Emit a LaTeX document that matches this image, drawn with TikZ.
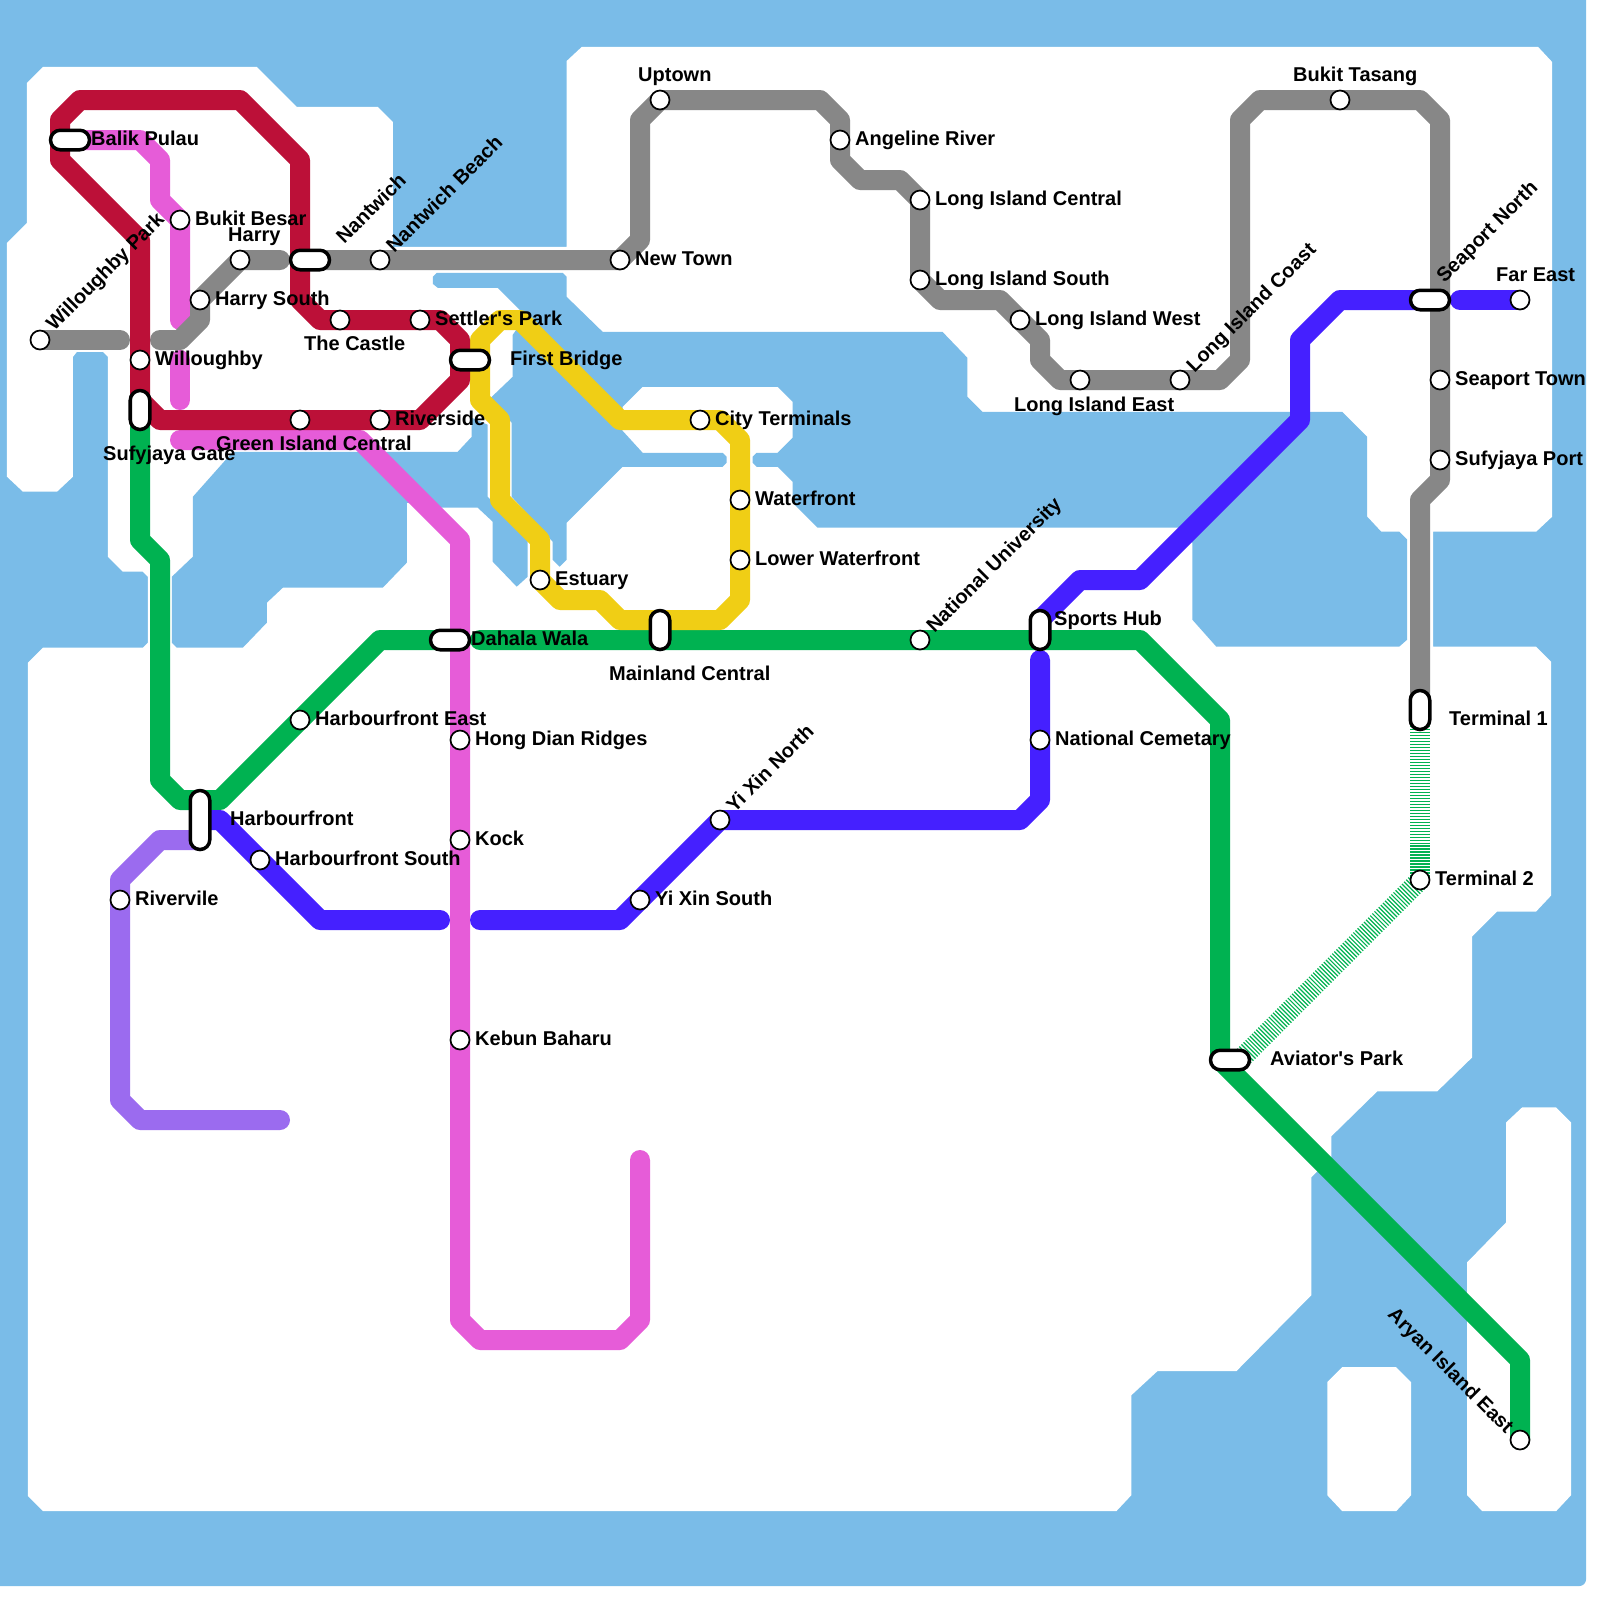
\documentclass[tikz,border=0pt]{standalone}
\usepackage{fontspec}
\newfontfamily\lblfont{Liberation Sans}
\usetikzlibrary{backgrounds}
\definecolor{water}{HTML}{7ABCE8}
\definecolor{redline}{HTML}{BC1038}
\definecolor{pinkline}{HTML}{E65CD8}
\definecolor{greyline}{HTML}{878787}
\definecolor{greenline}{HTML}{00B251}
\definecolor{blueline}{HTML}{4520FF}
\definecolor{violetline}{HTML}{9B6BEF}
\definecolor{yellowline}{HTML}{F0CE15}
\begin{document}
\begin{tikzpicture}[
        x=0.2cm, y=-0.2cm,
        track/.style={line width=0.2cm, line cap=round, line join=round},
        hatched/.style={line width=0.2cm, color=greenline, dash pattern=on 0.34pt off 0.51pt},
        stn/.style={draw, circle, fill=white, line width=0.017cm, minimum size=0.19cm, inner sep=0pt},
        pillh/.style={draw, fill=white, line width=0.035cm, minimum width=0.39cm, minimum height=0.195cm, inner sep=0pt, rounded corners=0.097cm},
        pillv/.style={draw, fill=white, line width=0.035cm, minimum width=0.195cm, minimum height=0.39cm, inner sep=0pt, rounded corners=0.097cm},
        pilllong/.style={pillv, minimum height=0.59cm},
        lbl/.style={anchor=base west, inner sep=0pt, xshift=-0.015cm, yshift=-0.01cm, font=\lblfont\bfseries\fontsize{5.69}{6}\selectfont},
        lblup/.style={lbl, xshift=0.035cm, yshift=-0.03cm, rotate=45},
        lbldown/.style={lbl, anchor=base east, xshift=-0.005cm, yshift=-0.03cm, rotate=-45}
    ]
        \useasboundingbox (0,0) rectangle (80,80);

        % Stations, west
        \node[pillh] (balik) at (3.5,7) {};
        \node[stn] (besar) at (9,11) {};
        \node[stn] (harry) at (12,13) {};
        \node[stn] (harrys) at (10,15) {};
        \node[pillh] (nantwich) at (15.5,13) {};
        \node[stn] (nbeach) at (19,13) {};
        \node[stn] (wpark) at (2,17) {};
        \node[stn] (willoughby) at (7,18) {};
        \node[stn] (castle) at (17,16) {};
        \node[stn] (settler) at (21,16) {};
        \node[pillh] (bridge) at (23.5,18) {};
        \node[pillv] (gate) at (7,20.5) {};
        \node[stn] (gisland) at (15,21) {};
        \node[stn] (riverside) at (19,21) {};

        % Stations, centre
        \node[stn] (newtown) at (31,13) {};
        \node[stn] (uptown) at (33,5) {};
        \node[stn] (cityterm) at (35,21) {};
        \node[stn] (waterfront) at (37,25) {};
        \node[stn] (lowerwf) at (37,28) {};
        \node[stn] (estuary) at (27,29) {};
        \node[pillv] (mainland) at (33,31.5) {};
        \node[pillh] (dahala) at (22.5,32) {};
        \node[stn] (natuni) at (46,32) {};
        \node[pillv] (sports) at (52,31.5) {};
        \node[stn] (cemetary) at (52,37) {};
        \node[stn] (yinorth) at (36,41) {};
        \node[stn] (yisouth) at (32,45) {};

        % Stations, south west
        \node[stn] (hbeast) at (15,36) {};
        \node[pilllong] (harbour) at (10,41) {};
        \node[stn] (hbsouth) at (13,43) {};
        \node[stn] (rivervile) at (6,45) {};
        \node[stn] (hongdian) at (23,37) {};
        \node[stn] (kock) at (23,42) {};
        \node[stn] (kebun) at (23,52) {};

        % Stations, east
        \node[stn] (angeline) at (42,7) {};
        \node[stn] (licentral) at (46,10) {};
        \node[stn] (lisouth) at (46,14) {};
        \node[stn] (liwest) at (51,16) {};
        \node[stn] (lieast) at (54,19) {};
        \node[stn] (licoast) at (59,19) {};
        \node[stn] (tasang) at (67,5) {};
        \node[pillh] (seaportn) at (71.5,15) {};
        \node[stn] (fareast) at (76,15) {};
        \node[stn] (seaportt) at (72,19) {};
        \node[stn] (sufport) at (72,23) {};
        \node[pillv] (term1) at (71,35.5) {};
        \node[stn] (term2) at (71,44) {};
        \node[pillh] (aviator) at (61.5,53) {};
        \node[stn] (aryan) at (76,72) {};

        % Labels
        \node[lbl] (tbalik) at (4.6,7.2) {Balik Pulau};
        \node[lbl] (tbesar) at (9.8,11.2) {Bukit Besar};
        \node[lbl] (tharry) at (11.45,12) {Harry};
        \node[lbl] (tharrys) at (10.8,15.2) {Harry South};
        \node[lblup] (tnantwich) at (17.1,12.05) {Nantwich};
        \node[lblup] (tnbeach) at (19.6,12.5) {Nantwich Beach};
        \node[lblup] (twpark) at (2.6,16.4) {Willoughby Park};
        \node[lbl] (twilloughby) at (7.8,18.2) {Willoughby};
        \node[lbl] (tcastle) at (15.25,17.45) {The Castle};
        \node[lbl] (tsettler) at (21.8,16.2) {Settler's Park};
        \node[lbl] (tbridge) at (25.55,18.2) {First Bridge};
        \node[lbl] (tgate) at (5.2,22.95) {Sufyjaya Gate};
        \node[lbl] (tgisland) at (10.85,22.45) {Green Island Central};
        \node[lbl] (triverside) at (19.8,21.2) {Riverside};
        \node[lbl] (tnewtown) at (31.8,13.2) {New Town};
        \node[lbl] (tuptown) at (31.95,4) {Uptown};
        \node[lbl] (tcityterm) at (35.8,21.2) {City Terminals};
        \node[lbl] (twaterfront) at (37.8,25.2) {Waterfront};
        \node[lbl] (tlowerwf) at (37.8,28.2) {Lower Waterfront};
        \node[lbl] (testuary) at (27.8,29.2) {Estuary};
        \node[lbl] (tmainland) at (30.5,33.95) {Mainland Central};
        \node[lbl] (tdahala) at (23.6,32.2) {Dahala Wala};
        \node[lblup] (tnatuni) at (46.6,31.5) {National University};
        \node[lbl] (tsports) at (52.75,31.2) {Sports Hub};
        \node[lbl] (tcemetary) at (52.8,37.2) {National Cemetary};
        \node[lblup] (tyinorth) at (36.6,40.5) {Yi Xin North};
        \node[lbl] (tyisouth) at (32.8,45.2) {Yi Xin South};
        \node[lbl] (thbeast) at (15.8,36.2) {Harbourfront East};
        \node[lbl] (tharbour) at (11.55,41.2) {Harbourfront};
        \node[lbl] (thbsouth) at (13.8,43.2) {Harbourfront South};
        \node[lbl] (trivervile) at (6.8,45.2) {Rivervile};
        \node[lbl] (thongdian) at (23.8,37.2) {Hong Dian Ridges};
        \node[lbl] (tkock) at (23.8,42.2) {Kock};
        \node[lbl] (tkebun) at (23.8,52.2) {Kebun Baharu};
        \node[lbl] (tangeline) at (42.8,7.2) {Angeline River};
        \node[lbl] (tlicentral) at (46.8,10.2) {Long Island Central};
        \node[lbl] (tlisouth) at (46.8,14.2) {Long Island South};
        \node[lbl] (tliwest) at (51.8,16.2) {Long Island West};
        \node[lbl] (tlieast) at (50.75,20.5) {Long Island East};
        \node[lblup] (tlicoast) at (59.6,18.5) {Long Island Coast};
        \node[lbl] (ttasang) at (64.7,4) {Bukit Tasang};
        \node[lblup] (tseaportn) at (72.1,14) {Seaport North};
        \node[lbl] (tfareast) at (74.85,14) {Far East};
        \node[lbl] (tseaportt) at (72.8,19.2) {Seaport Town};
        \node[lbl] (tsufport) at (72.8,23.2) {Sufyjaya Port};
        \node[lbl] (tterm1) at (72.5,36.2) {Terminal 1};
        \node[lbl] (tterm2) at (71.8,44.2) {Terminal 2};
        \node[lbl] (taviator) at (63.55,53.2) {Aviator's Park};
        \node[lbldown] (taryan) at (75.4,71.55) {Aryan Island East};

        % Free ends of the lines
        \coordinate (pinkend) at (32,58);
        \coordinate (violetend) at (14,56);

        \begin{pgfonlayer}{background}
        % Sea and land, in reference pixels
        \begin{scope}[x=0.01cm, y=-0.01cm]
            \fill[water, rounded corners=0.07cm] (-20,-20) rectangle (1587,1587);
            \fill[white] (43,67) -- (257,67) -- (297,107) -- (378,107) -- (393,122) -- (393,247) -- (567,247) -- (567,61) -- (582,47)
                -- (1539,47) -- (1553,62) -- (1553,517) -- (1537,532) -- (1434,532) -- (1434,647) -- (1537,647) -- (1552,662)
                -- (1552,896) -- (1537,912) -- (1498,912) -- (1473,937) -- (1473,1058) -- (1438,1092) -- (1378,1092) -- (1332,1137)
                -- (1332,1158) -- (1312,1178) -- (1312,1296) -- (1237,1372) -- (1158,1372) -- (1132,1396) -- (1132,1496) -- (1117,1512)
                -- (43,1512) -- (28,1497) -- (28,663) -- (43,648) -- (143,648) -- (148,643) -- (148,577) -- (143,572) -- (123,572)
                -- (108,557) -- (108,357) -- (103,352) -- (77,352) -- (73,357) -- (73,477) -- (57,492) -- (23,492) -- (7,477)
                -- (7,243) -- (27,223) -- (27,83) -- cycle;
            % Lake under the west lines
            \fill[water] (233,452) -- (458,452) -- (472,437) -- (472,418) -- (488,425) -- (488,497) -- (528,537) -- (528,577) -- (517,587)
                -- (493,562) -- (493,522) -- (478,508) -- (442,508) -- (407,503) -- (407,563) -- (383,588) -- (283,588) -- (267,603)
                -- (267,623) -- (243,648) -- (177,648) -- (172,643) -- (172,577) -- (193,557) -- (193,497) -- cycle;
            % Central water
            \fill[water] (437,273) -- (563,273) -- (567,277) -- (567,297) -- (603,332) -- (943,332) -- (968,358) -- (968,397) -- (983,412)
                -- (1343,412) -- (1368,437) -- (1368,517) -- (1382,532) -- (1400,532) -- (1408,540) -- (1408,640) -- (1400,647) -- (1217,647)
                -- (1193,620) -- (1193,543) -- (1179,528) -- (818,528) -- (793,503) -- (793,482) -- (778,467) -- (757,467) -- (753,463) -- (753,457)
                -- (757,453) -- (778,453) -- (793,438) -- (793,402) -- (778,387) -- (643,387) -- (623,407) -- (622,430) -- (643,453)
                -- (723,453) -- (727,457) -- (727,463) -- (723,467) -- (623,467) -- (567,523) -- (567,560) -- (560,567) -- (553,560) -- (553,542)
                -- (512,497) -- (512,423) -- (491,398) -- (513,377) -- (513,335) -- (520,325) -- (522,312) -- (498,288) -- (438,288)
                -- (433,284) -- (433,277) -- cycle;
            % Islands, south east
            \fill[white] (1328,1383) -- (1343,1368) -- (1397,1368) -- (1412,1383) -- (1412,1496) -- (1397,1512) -- (1343,1512) -- (1328,1496) -- cycle;
            \fill[white] (1507,1123) -- (1523,1108) -- (1557,1108) -- (1572,1123) -- (1572,1496) -- (1557,1512) -- (1483,1512) -- (1468,1496)
                -- (1468,1263) -- (1507,1223) -- cycle;
        \end{scope}

        % Pink line
        \draw[track, pinkline] (balik.center) -- (7,7) -- (8,8) -- (8,10) -- (besar.center) -- (9,16);
        \draw[track, pinkline] (9,18) -- (9,20);
        \draw[track, pinkline] (9,22) -- (18,22) -- (23,27) -- (hongdian.center) -- (kock.center) -- (kebun.center)
            -- (23,66) -- (24,67) -- (31,67) -- (32,66) -- (pinkend);

        % Grey line
        \draw[track, greyline] (wpark.center) -- (6,17);
        \draw[track, greyline] (8,17) -- (9,17) -- (10,16) -- (harrys.center) -- (harry.center) -- (14,13);
        \draw[track, greyline] (16,13) -- (nbeach.center) -- (newtown.center) -- (32,12) -- (32,6) -- (uptown.center) -- (41,5) -- (42,6)
            -- (angeline.center) -- (42,8) -- (43,9) -- (45,9) -- (licentral.center) -- (lisouth.center) -- (47,15) -- (50,15) -- (liwest.center)
            -- (52,17) -- (52,18) -- (53,19) -- (lieast.center) -- (licoast.center) -- (61,19) -- (62,18) -- (62,6) -- (63,5) -- (tasang.center)
            -- (71,5) -- (72,6) -- (seaportt.center) -- (sufport.center) -- (72,24) -- (71,25) -- (term1.center);

        % Green line
        \draw[track, greenline] (7,21) -- (7,27) -- (8,28) -- (8,39) -- (9,40) -- (11,40) -- (hbeast.center) -- (19,32) -- (dahala.center);
        \draw[track, greenline] (24,32) -- (natuni.center) -- (57,32) -- (61,36) -- (61,53) -- (76,68) -- (aryan.center);
        \draw[hatched] (71,36) -- (term2.center);
        \draw[hatched] (term2.center) -- (62,53);

        % Violet line
        \draw[track, violetline] (10,42) -- (8,42) -- (6,44) -- (rivervile.center) -- (6,55) -- (7,56) -- (violetend);

        % Blue line
        \draw[track, blueline] (fareast.center) -- (73,15);
        \draw[track, blueline] (71,15) -- (67,15) -- (65,17) -- (65,21) -- (57,29) -- (54,29) -- (52,31);
        \draw[track, blueline] (52,33) -- (cemetary.center) -- (52,40) -- (51,41) -- (yinorth.center) -- (yisouth.center) -- (31,46) -- (24,46);
        \draw[track, blueline] (22,46) -- (16,46) -- (hbsouth.center) -- (11,41) -- (harbour.center);

        % Yellow line
        \draw[track, yellowline] (24,17) -- (24,20) -- (25,21) -- (25,25) -- (27,27) -- (estuary.center) -- (28,30) -- (30,30) -- (31,31) -- (36,31)
            -- (37,30) -- (lowerwf.center) -- (waterfront.center) -- (37,22) -- (36,21) -- (cityterm.center) -- (31,21) -- (26,16) -- (25,16) -- cycle;

        % Red line
        \draw[track, redline] (7,20) -- (7,12) -- (3,8) -- (3,6) -- (4,5) -- (12,5) -- (15,8) -- (15,15) -- (16,16) -- (castle.center) -- (settler.center)
            -- (22,16) -- (23,17) -- (23,19) -- (21,21) -- (riverside.center) -- (gisland.center) -- (8,21) -- cycle;
        \end{pgfonlayer}
    \end{tikzpicture}
\end{document}
